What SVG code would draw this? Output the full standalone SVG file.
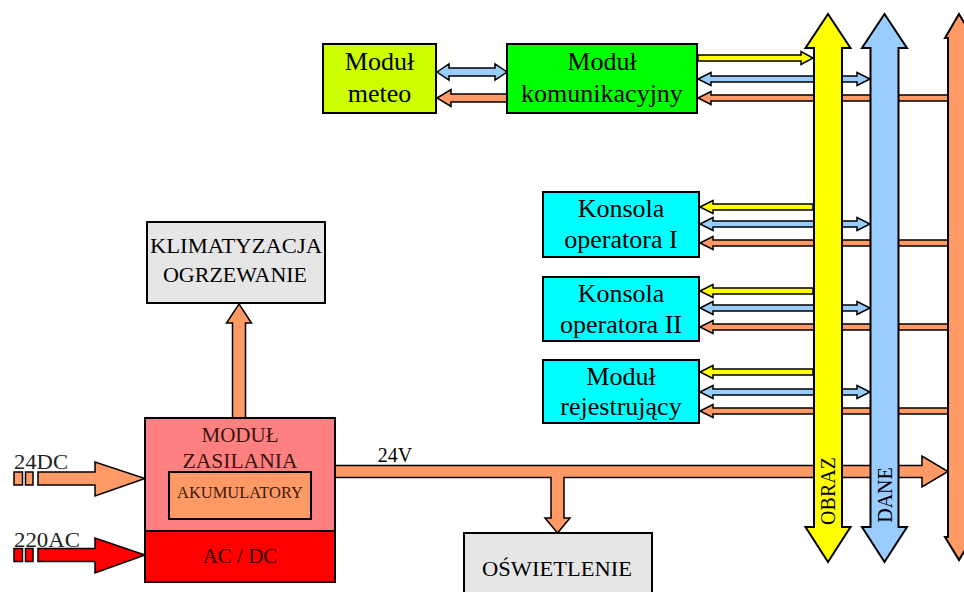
<svg xmlns="http://www.w3.org/2000/svg" width="964" height="592" viewBox="0 0 964 592" font-family="'Liberation Serif', 'Times New Roman', serif">
<style>
.box{stroke:#000;stroke-width:2}
.ar{stroke:#000;stroke-width:1.5;stroke-linejoin:miter}
text{font-family:'Liberation Serif','Times New Roman',serif}
.t{fill:#000;text-anchor:middle}
.t26{font-size:26px}
.t21{font-size:21px}
.t20{font-size:20px}
.y{fill:#ffff00}
.b{fill:#99ccff}
.o{fill:#ff9966}
.r{fill:#ff0000}
</style>
<rect width="964" height="592" fill="#fff"/>
<g id="connectors">
  <polygon class="ar b" points="437,72 449,64 449,68 495,68 495,64 507,72 495,80 495,76 449,76 449,80"/>
  <polygon class="ar o" points="437,98 451,89.5 451,94 507,94 507,102 451,102 451,106.5"/>
  <polygon class="ar y" points="698,55 801,55 801,51.5 813,58 801,64.5 801,61 698,61"/>
  <polygon class="ar b" points="698,79 711,72.5 711,76 857,76 857,72.5 870,79 857,85.5 857,82 711,82 711,85.5"/>
  <polygon class="ar o" points="698,98 711,91.5 711,95 948,95 948,101 711,101 711,104.5"/>
  <polygon class="ar y" points="700,207 713,200.5 713,204 813,204 813,210 713,210 713,213.5"/>
  <polygon class="ar b" points="700,224 713,217.5 713,221 857,221 857,217.5 870,224 857,230.5 857,227 713,227 713,230.5"/>
  <polygon class="ar o" points="700,243 713,236.5 713,240 948,240 948,246 713,246 713,249.5"/>
  <polygon class="ar y" points="700,291 713,284.5 713,288 813,288 813,294 713,294 713,297.5"/>
  <polygon class="ar b" points="700,308 713,301.5 713,305 857,305 857,301.5 870,308 857,314.5 857,311 713,311 713,314.5"/>
  <polygon class="ar o" points="700,327 713,320.5 713,324 948,324 948,330 713,330 713,333.5"/>
  <polygon class="ar y" points="700,372 713,365.5 713,369 813,369 813,375 713,375 713,378.5"/>
  <polygon class="ar b" points="700,392 713,385.5 713,389 857,389 857,385.5 870,392 857,398.5 857,395 713,395 713,398.5"/>
  <polygon class="ar o" points="700,411 713,404.5 713,408 948,408 948,414 713,414 713,417.5"/>
  <polygon class="ar o" points="239,304 251.5,323 245.5,323 245.5,418 232.5,418 232.5,323 226.5,323"/>
  <polygon class="ar o" points="335,465.5 922,465.5 922,456 948,471.5 922,487 922,477.5 564,477.5 564,518 570,518 557.5,533 545,518 551,518 551,477.5 335,477.5"/>
  <rect class="ar o" x="14" y="472" width="8.5" height="13"/>
  <rect class="ar o" x="25.5" y="472" width="7.5" height="13"/>
  <polygon class="ar o" points="38,472 95,472 95,462 145,478.5 95,496 95,485 38,485"/>
  <rect class="ar r" x="14" y="548.5" width="8.5" height="13"/>
  <rect class="ar r" x="25.5" y="548.5" width="7.5" height="13"/>
  <polygon class="ar r" points="38,548.5 95,548.5 95,538 145,555 95,573 95,561.5 38,561.5"/>
  <g id="bus-obraz">
    <polygon class="box y" points="828,14 850.5,48 842,48 842,527 850.5,527 828,562 805.5,527 814,527 814,48 805.5,48"/>
    <text class="t t20" font-family="'Liberation Serif', serif" transform="translate(835,491) rotate(-90)">OBRAZ</text>
  </g>
  <g id="bus-dane">
    <polygon class="box b" points="884.5,14 907,48 898.5,48 898.5,527 907,527 884.5,562 862,527 870.5,527 870.5,48 862,48"/>
    <text class="t t20" font-family="'Liberation Serif', serif" transform="translate(891.5,495) rotate(-90)">DANE</text>
  </g>
  <g id="bus-zasilanie">
    <polygon class="box o" points="959,14 973,38 970,38 970,537 973,537 959,560 945,537 948,537 948,38 945,38"/>
  </g>
  <text class="t t20" font-family="'Liberation Serif', serif" x="395" y="462">24V</text>
  <text class="t t21" font-family="'Liberation Serif', serif" x="14" y="469" style="text-anchor:start;fill:#222" textLength="54" lengthAdjust="spacingAndGlyphs">24DC</text>
  <text class="t t21" font-family="'Liberation Serif', serif" x="14" y="547" style="text-anchor:start;fill:#222" textLength="66" lengthAdjust="spacingAndGlyphs">220AC</text>
</g>
<g id="modul-meteo" font-family="'Liberation Serif', serif">
  <rect class="box" x="323" y="44" width="113" height="69" fill="#ccff00"/>
  <text class="t t26" x="379.5" y="70">Moduł</text>
  <text class="t t26" x="379.5" y="102">meteo</text>
</g>
<g id="modul-komunikacyjny" font-family="'Liberation Serif', serif">
  <rect class="box" x="507" y="44" width="190" height="69" fill="#00ff00"/>
  <text class="t t26" x="602" y="70">Moduł</text>
  <text class="t t26" x="602" y="102">komunikacyjny</text>
</g>
<g id="konsola-1" font-family="'Liberation Serif', serif">
  <rect class="box" x="543" y="192" width="156" height="65" fill="#00ffff"/>
  <text class="t t26" x="621" y="217">Konsola</text>
  <text class="t t26" x="621" y="248">operatora I</text>
</g>
<g id="konsola-2" font-family="'Liberation Serif', serif">
  <rect class="box" x="543" y="277" width="156" height="64" fill="#00ffff"/>
  <text class="t t26" x="621" y="302">Konsola</text>
  <text class="t t26" x="621" y="333">operatora II</text>
</g>
<g id="modul-rejestrujacy" font-family="'Liberation Serif', serif">
  <rect class="box" x="543" y="360" width="156" height="63" fill="#00ffff"/>
  <text class="t t26" x="621" y="385">Moduł</text>
  <text class="t t26" x="621" y="415">rejestrujący</text>
</g>
<g id="klimatyzacja" font-family="'Liberation Serif', serif">
  <rect class="box" x="147" y="222" width="178" height="81" fill="#e6e6e6"/>
  <text class="t t20" x="236" y="253" textLength="172" lengthAdjust="spacingAndGlyphs">KLIMATYZACJA</text>
  <text class="t t20" x="235" y="282" textLength="144" lengthAdjust="spacingAndGlyphs">OGRZEWANIE</text>
</g>
<g id="modul-zasilania" font-family="'Liberation Serif', serif">
  <rect class="box" x="145" y="418" width="190" height="113" fill="#ff8080"/>
  <text class="t t21" x="240" y="442" style="fill:#3a1414">MODUŁ</text>
  <text class="t t21" x="240" y="468" style="fill:#3a1414" textLength="115" lengthAdjust="spacingAndGlyphs">ZASILANIA</text>
</g>
<g id="akumulatory" font-family="'Liberation Serif', serif">
  <rect class="box" x="169" y="472" width="142" height="47" fill="#ff9966"/>
  <text class="t" x="240" y="498" style="font-size:16px;fill:#3a1a0a" textLength="126" lengthAdjust="spacingAndGlyphs">AKUMULATORY</text>
</g>
<g id="ac-dc" font-family="'Liberation Serif', serif">
  <rect class="box" x="145" y="531" width="190" height="51" fill="#ff0000"/>
  <text class="t t21" x="240" y="563" style="fill:#2a0000">AC / DC</text>
</g>
<g id="oswietlenie" font-family="'Liberation Serif', serif">
  <rect class="box" x="464" y="533" width="188" height="70" fill="#e6e6e6"/>
  <text class="t t21" x="557" y="576" textLength="150" lengthAdjust="spacingAndGlyphs">OŚWIETLENIE</text>
</g>
</svg>
